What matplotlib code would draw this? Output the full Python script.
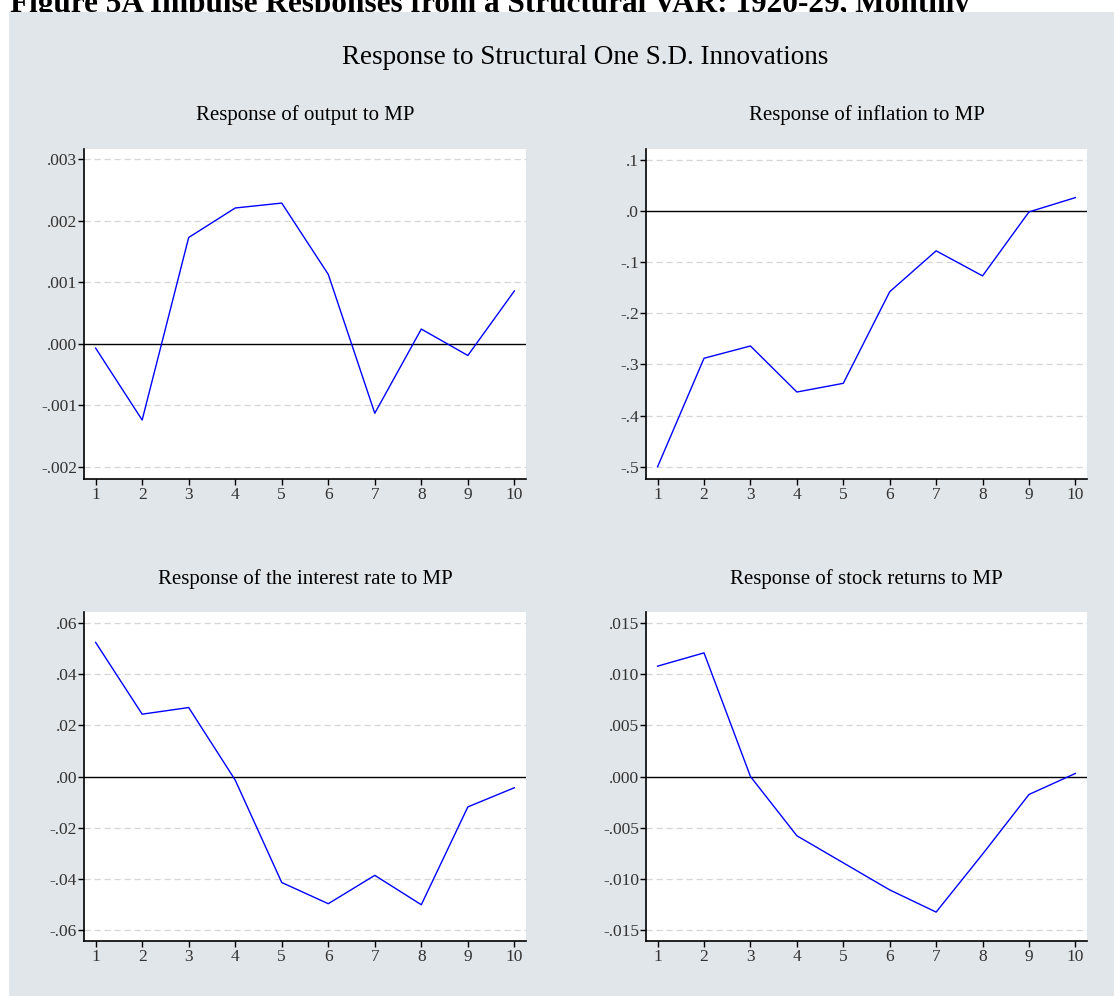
import numpy as np
import matplotlib
matplotlib.use('Agg')
import matplotlib.pyplot as plt
from matplotlib.patches import Rectangle

# horizonte (meses)
periodos = np.arange(1, 11)

# respostas
resp_produto = [-0.00007, -0.00124, 0.00173, 0.00221, 0.00229,
                0.00113, -0.00113, 0.00024, -0.00019, 0.00086]
resp_inflacao = [-0.500, -0.288, -0.264, -0.354, -0.337,
                 -0.158, -0.078, -0.127, -0.002, 0.026]
resp_juros = [0.0525, 0.0244, 0.0270, -0.0014, -0.0415,
              -0.0498, -0.0387, -0.0502, -0.0119, -0.0044]
resp_acoes = [0.0108, 0.0121, 0.0000, -0.0058, -0.00845,
              -0.0111, -0.01327, -0.0076, -0.00176, 0.0003]

titulos = ['Response of output to MP', 'Response of inflation to MP',
           'Response of the interest rate to MP', 'Response of stock returns to MP']

ticks_produto = [-0.002, -0.001, 0.0, 0.001, 0.002, 0.003]
rot_produto = ['-.002', '-.001', '.000', '.001', '.002', '.003']
ticks_inflacao = [-0.5, -0.4, -0.3, -0.2, -0.1, 0.0, 0.1]
rot_inflacao = ['-.5', '-.4', '-.3', '-.2', '-.1', '.0', '.1']
ticks_juros = [-0.06, -0.04, -0.02, 0.0, 0.02, 0.04, 0.06]
rot_juros = ['-.06', '-.04', '-.02', '.00', '.02', '.04', '.06']
ticks_acoes = [-0.015, -0.010, -0.005, 0.0, 0.005, 0.010, 0.015]
rot_acoes = ['-.015', '-.010', '-.005', '.000', '.005', '.010', '.015']

limites_y = [(-0.0022, 0.00317), (-0.524, 0.121), (-0.0644, 0.0644), (-0.0161, 0.0161)]

plt.rcParams['font.family'] = ['Liberation Serif', 'DejaVu Serif']

W, H = 1114, 996
fig = plt.figure(figsize=(W / 100, H / 100), dpi=100)

# titulo em negrito, parcialmente coberto pela caixa cinza (como no original)
fig.text(10 / W, 1 - 12 / H, 'Figure 5A Impulse Responses from a Structural VAR: 1920-29, Monthly',
         fontsize=22.5, fontweight='bold', ha='left', va='baseline', zorder=1)
fig.patches.append(Rectangle((9 / W, 0), 1 - 9 / W, 1 - 12 / H, transform=fig.transFigure,
                             facecolor='#E1E6EA', edgecolor='none', zorder=2))

fig.text(0.5256, 1 - 57 / H, 'Response to Structural One S.D. Innovations',
         fontsize=19.5, ha='center', va='center', zorder=4)

# posicoes em pixels: esquerda, direita, topo, base
caixas = [(84, 526, 149, 479), (646, 1087, 149, 479),
          (84, 526, 612, 941), (646, 1087, 612, 941)]
series = [resp_produto, resp_inflacao, resp_juros, resp_acoes]
ticks = [ticks_produto, ticks_inflacao, ticks_juros, ticks_acoes]
rotulos = [rot_produto, rot_inflacao, rot_juros, rot_acoes]

for i in range(4):
    esq, dir_, topo, base = caixas[i]
    ax = fig.add_axes([esq / W, 1 - base / H, (dir_ - esq) / W, (base - topo) / H])
    ax.set_zorder(3)
    ax.set_facecolor('white')
    for y in ticks[i]:
        if y != 0:
            ax.axhline(y, color='#D6D6D6', lw=0.9, ls=(0, (5, 3)), zorder=1)
    ax.axhline(0, color='black', lw=1.0, zorder=2)
    ax.plot(periodos, series[i], color='#0000FF', lw=1.0, zorder=3)
    ax.set_xlim(0.75, 10.25)
    ax.set_ylim(*limites_y[i])
    ax.set_xticks(periodos)
    ax.set_xticklabels([str(p) for p in periodos])
    ax.set_yticks(ticks[i])
    ax.set_yticklabels(rotulos[i])
    ax.spines['top'].set_visible(False)
    ax.spines['right'].set_visible(False)
    ax.spines['left'].set_linewidth(1.2)
    ax.spines['bottom'].set_linewidth(1.2)
    ax.tick_params(axis='both', direction='out', length=4, width=1.0, labelsize=12.5,
                   labelcolor='#333333', pad=1)
    ax.tick_params(axis='x', pad=2)
    ax.set_title(titulos[i], fontsize=15, pad=21 if i < 2 else 20)

fig.savefig('out.png', dpi=100)
